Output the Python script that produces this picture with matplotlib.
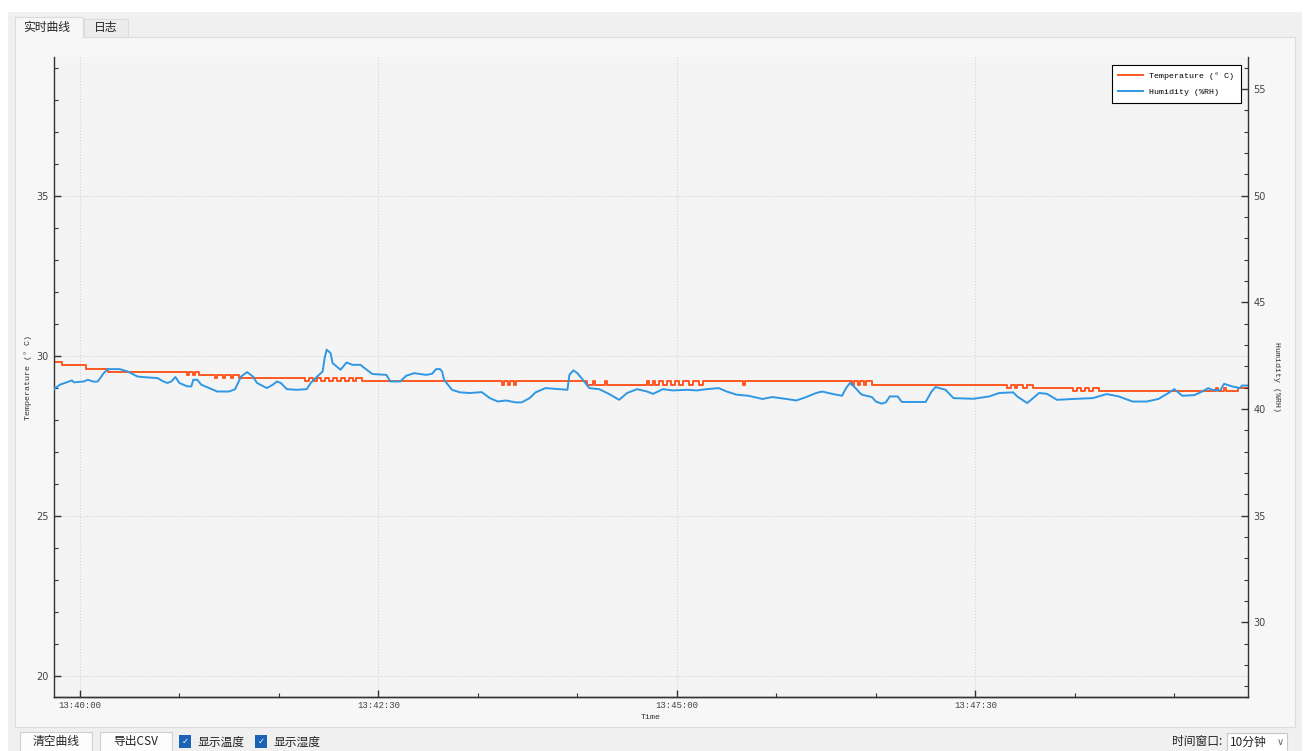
import matplotlib.pyplot as plt
from matplotlib.patches import Rectangle
from matplotlib.ticker import MultipleLocator, FuncFormatter

# seconds relative to 13:40:00
temp_t = [-13, -9, 3, 14, 54, 55, 57, 58, 60, 68, 69, 72, 73, 76, 77, 80,
          113, 115, 117, 119, 121, 123, 125, 127, 129, 131, 133, 135, 137, 139, 142,
          212, 213, 215, 216, 218, 219,
          255, 258, 259, 264, 265, 285, 286, 288, 289, 291, 293, 295, 297, 299, 301, 303, 306, 308, 311, 313,
          333, 334,
          388, 389, 391, 392, 394, 395, 398,
          466, 468, 470, 471, 474, 476, 479,
          499, 501, 503, 505, 507, 509, 512,
          571, 572, 575, 576, 582, 587]
temp_v = [29.8, 29.7, 29.6, 29.5, 29.4, 29.5, 29.4, 29.5, 29.4, 29.3, 29.4, 29.3, 29.4, 29.3, 29.4, 29.3,
          29.2, 29.3, 29.2, 29.3, 29.2, 29.3, 29.2, 29.3, 29.2, 29.3, 29.2, 29.3, 29.2, 29.3, 29.2,
          29.1, 29.2, 29.1, 29.2, 29.1, 29.2,
          29.1, 29.2, 29.1, 29.2, 29.1, 29.2, 29.1, 29.2, 29.1, 29.2, 29.1, 29.2, 29.1, 29.2, 29.1, 29.2, 29.1, 29.2, 29.1, 29.2,
          29.1, 29.2,
          29.1, 29.2, 29.1, 29.2, 29.1, 29.2, 29.1,
          29.0, 29.1, 29.0, 29.1, 29.0, 29.1, 29.0,
          28.9, 29.0, 28.9, 29.0, 28.9, 29.0, 28.9,
          29.0, 28.9, 29.0, 28.9, 29.0, 29.0]

hum_t = [-13, -10, -4, -3, 2, 4, 7, 9, 12, 14, 20, 24, 29, 34, 39, 42, 44, 46, 48, 50,
         54, 56, 57, 59, 61, 65, 69, 75, 78, 81, 84, 87, 89, 94, 97, 99, 101, 104, 109, 114,
         116, 119, 122, 123, 124, 126, 127, 131, 134, 137, 141, 143, 147, 154, 156, 161, 164, 168, 174, 177,
         179, 181, 182, 183, 187, 191, 196, 202, 206, 210, 214, 219, 222, 226, 229, 234, 245, 246, 248, 250,
         253, 256, 261, 266, 271, 275, 280, 285, 288, 293, 298, 305, 310, 315, 321, 325, 330, 336, 343, 348,
         355, 360, 365, 370, 373, 378, 383, 385, 387, 389, 392, 393, 398, 400, 403, 405, 407, 411, 413, 425,
         428, 430, 435, 439, 449, 457, 462, 469, 471, 476, 478, 482, 486, 491, 499, 509, 516, 522, 529, 536,
         542, 547, 550, 554, 560, 564, 567, 569, 573, 575, 579, 583, 584, 587]
hum_v = [40.93, 41.14, 41.34, 41.25, 41.29, 41.37, 41.28, 41.29, 41.68, 41.87,
         41.87, 41.76, 41.52, 41.48, 41.45, 41.29, 41.22, 41.29, 41.50, 41.22,
         41.06, 41.06, 41.37, 41.37, 41.14, 40.98, 40.82, 40.82, 40.93, 41.52,
         41.73, 41.52, 41.22, 40.98, 41.14, 41.29, 41.22, 40.93, 40.90, 40.93,
         41.22, 41.50, 41.76, 42.39, 42.78, 42.62, 42.15, 41.84, 42.18, 42.07,
         42.07, 41.92, 41.64, 41.60, 41.29, 41.29, 41.56, 41.68, 41.60, 41.65,
         41.87, 41.87, 41.76, 41.37, 40.90, 40.78, 40.75, 40.79, 40.51, 40.35,
         40.40, 40.31, 40.31, 40.51, 40.78, 40.98, 40.90, 41.60, 41.81, 41.68,
         41.34, 40.98, 40.93, 40.70, 40.43, 40.75, 40.93, 40.82, 40.71, 40.93,
         40.87, 40.90, 40.87, 40.93, 40.98, 40.82, 40.67, 40.62, 40.47, 40.56,
         40.47, 40.40, 40.56, 40.75, 40.82, 40.71, 40.62, 40.98, 41.22, 41.06,
         40.75, 40.67, 40.56, 40.35, 40.25, 40.31, 40.59, 40.59, 40.33, 40.33,
         40.82, 41.03, 40.90, 40.51, 40.48, 40.59, 40.75, 40.78, 40.59, 40.28,
         40.43, 40.75, 40.71, 40.43, 40.47, 40.51, 40.70, 40.59, 40.35, 40.35,
         40.47, 40.75, 40.93, 40.62, 40.65, 40.82, 40.98, 40.90, 40.87, 41.18,
         41.06, 40.98, 41.10, 41.10]

x_ticks = [0, 150, 300, 450]
temp_ticks = [20, 25, 30, 35]
hum_ticks = [30, 35, 40, 45, 50, 55]

W, H = 1307, 751
CJK = ['Noto Sans CJK SC', 'DejaVu Sans']
MONO = 'Liberation Mono'

fig = plt.figure(figsize=(W / 100, H / 100), dpi=100)
fig.patch.set_facecolor('white')


def box(x0, y0, x1, y1, fc, ec='none', lw=0.8, z=-1):
    fig.add_artist(Rectangle((x0 / W, 1 - y1 / H), (x1 - x0) / W, (y1 - y0) / H,
                             transform=fig.transFigure, facecolor=fc,
                             edgecolor=ec, linewidth=lw, zorder=z))


def label(x, y, s, size=8.5, ha='left', color='#222222', family=CJK):
    fig.text(x / W, 1 - y / H, s, fontsize=size, ha=ha, va='center',
             color=color, family=family)


# window / tab page background
box(8, 12, 1302, 760, '#f0f0f0')
box(15, 37, 1295, 727, '#f7f7f7', ec='#dcdcdc')
box(15, 17, 83, 37, '#f7f7f7', ec='#dcdcdc')
box(15.6, 36, 82.4, 38.5, '#f7f7f7')
box(84, 19, 128, 37, '#ececec', ec='#dcdcdc')
label(47, 28, '实时曲线', ha='center')
label(106, 28, '日志', ha='center')

# bottom controls
box(20, 732, 92, 760, '#fdfdfd', ec='#cfcfcf', z=1)
label(56, 742, '清空曲线', ha='center')
box(100, 732, 172, 760, '#fdfdfd', ec='#cfcfcf', z=1)
label(136, 742, '导出CSV', ha='center')
for cx, txt in [(185, '显示温度'), (261, '显示湿度')]:
    box(cx - 6, 735, cx + 6, 748, '#1b63b5', z=1)
    label(cx, 741.5, '✓', size=6, ha='center', color='white', family=['DejaVu Sans'])
    label(cx + 12, 742, txt)
label(1222, 742, '时间窗口:', ha='right')
box(1227, 733, 1287, 760, 'white', ec='#c8c8c8', z=1)
label(1230, 742, '10分钟')
label(1280, 742, '∨', size=7, ha='center', color='#666666', family=['DejaVu Sans'])

# plot
ax = fig.add_axes([54 / W, 1 - 697 / H, (1248 - 54) / W, (697 - 57) / H])
ax.set_facecolor('#f4f4f4')
ax2 = ax.twinx()

l1, = ax.plot(temp_t, temp_v, color='#ff5722', linewidth=1.4,
              drawstyle='steps-post', label='Temperature (° C)')
l2, = ax2.plot(hum_t, hum_v, color='#2f97e3', linewidth=1.4,
               label='Humidity (%RH)')

ax.set_xlim(-13, 587)
ax.set_ylim(19.34, 39.34)
ax2.set_ylim(26.5, 56.5)

ax.set_xticks(x_ticks)
ax.xaxis.set_minor_locator(MultipleLocator(50))
ax.xaxis.set_major_formatter(FuncFormatter(
    lambda s, p: '13:%02d:%02d' % (40 + int(s) // 60, int(s) % 60)))
ax.set_yticks(temp_ticks)
ax.yaxis.set_minor_locator(MultipleLocator(1))
ax2.set_yticks(hum_ticks)
ax2.yaxis.set_minor_locator(MultipleLocator(1))

ax.grid(True, which='major', color='#d4d4d4', linestyle=':', linewidth=0.8)

for a in (ax, ax2):
    a.spines['top'].set_visible(False)
    for sp in a.spines.values():
        sp.set_color('#333333')
        sp.set_linewidth(1)
    a.tick_params(which='major', direction='in', length=5, width=1,
                  labelsize=7, labelcolor='#444444', color='#333333', pad=4)
    a.tick_params(which='minor', direction='in', length=3, width=0.8,
                  color='#333333')
ax.spines['right'].set_visible(False)
ax2.spines['left'].set_visible(False)
ax.tick_params(axis='x', pad=3)

for t in ax.get_xticklabels():
    t.set_family(MONO)
    t.set_fontsize(6.5)

ax.set_xlabel('Time', fontsize=6, family=MONO, color='#333333', labelpad=3)
ax.set_ylabel('Temperature (° C)', fontsize=6, family=MONO,
              color='#333333', labelpad=3)
ax2.set_ylabel('Humidity (%RH)', fontsize=6, family=MONO,
               color='#333333', rotation=270, labelpad=10)

leg = ax2.legend(handles=[l1, l2], loc='upper right',
                 bbox_to_anchor=(0.994, 0.987), borderaxespad=0,
                 fancybox=False, framealpha=1, edgecolor='black',
                 facecolor='white', handlelength=3.0, handletextpad=0.7,
                 labelspacing=1.0, borderpad=0.8,
                 prop={'family': MONO, 'size': 6})
leg.get_frame().set_linewidth(0.8)

fig.savefig('out.png', dpi=100, facecolor=fig.get_facecolor())
